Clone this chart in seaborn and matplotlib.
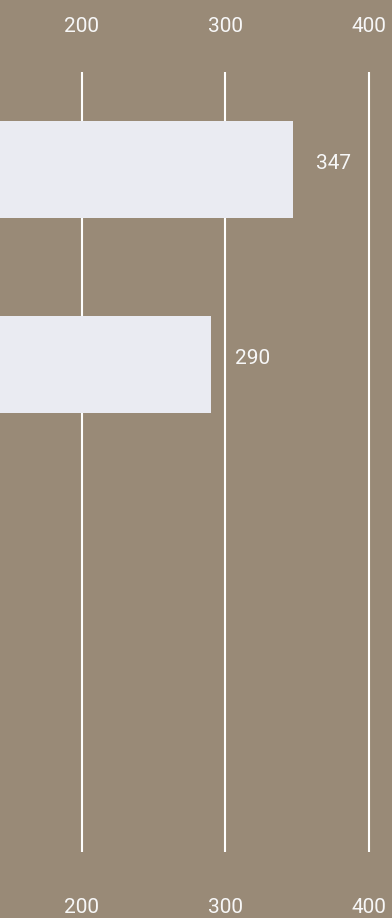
import pandas as pd
import numpy as np
import matplotlib.pyplot as plt
import seaborn as sns

# data (the crop only shows the two largest bars)
categories = ['A', 'B']
values = [347, 290]
tick_values = [200, 300, 400]

bg = '#998a77'
bar_color = '#eaebf2'
text_color = '#f7f7f7'

sns.set_theme(style='white', rc={'axes.facecolor': bg, 'figure.facecolor': bg})
plt.rcParams['font.family'] = ['Roboto', 'DejaVu Sans']

df = pd.DataFrame({'category': categories, 'value': values})

fig = plt.figure(figsize=(3.92, 9.18), dpi=100)
# axes runs off the left edge, as in the cropped reference
ax = fig.add_axes([-205.6 / 392, 66 / 918, 597.6 / 392, 780 / 918])

sns.barplot(data=df, x='value', y='category', orient='h', color=bar_color,
            width=0.5, saturation=1, linewidth=0, edgecolor='none', ax=ax)

ax.set_xlim(0, 416)
ax.set_ylim(3.5, -0.5)
ax.set_xticks(tick_values)
ax.grid(True, axis='x', color='white', linewidth=1.5)
ax.set_axisbelow(True)
for s in ax.spines.values():
    s.set_visible(False)

ax.tick_params(axis='x', length=0, labelsize=15, labelcolor=text_color, pad=33)
ax.tick_params(axis='y', length=0, labelleft=False)
ax.set_xlabel('')
ax.set_ylabel('')

top = ax.secondary_xaxis('top')
top.set_xticks(tick_values)
top.tick_params(length=0, labelsize=15, labelcolor=text_color, pad=26)
for s in top.spines.values():
    s.set_visible(False)

for i, v in enumerate(values):
    ax.annotate(str(v), xy=(v, i), xytext=(17, 4), textcoords='offset points',
                ha='left', va='center', fontsize=15, color=text_color)

plt.savefig('out.png', dpi=100, facecolor=bg)
